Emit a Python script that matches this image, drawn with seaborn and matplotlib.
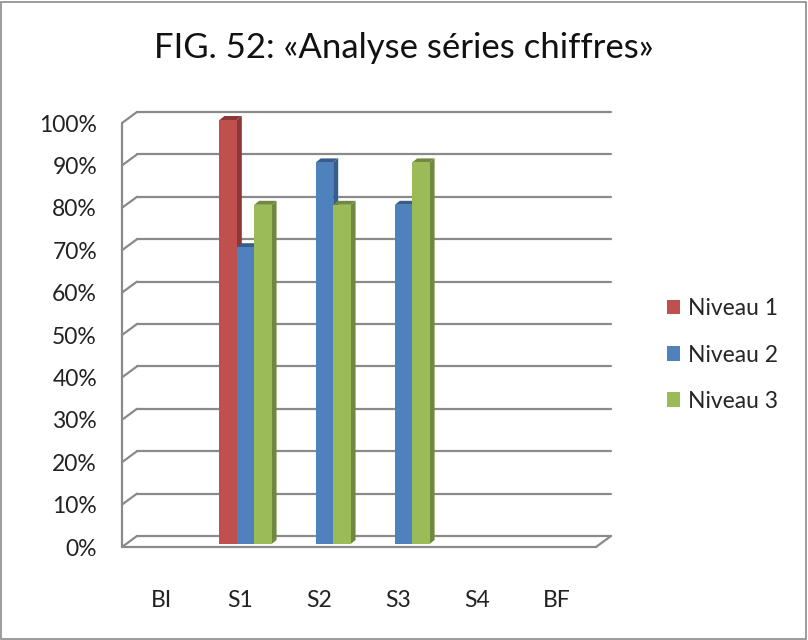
import numpy as np
import pandas as pd
import matplotlib
matplotlib.use("Agg")
import matplotlib.pyplot as plt
from matplotlib.patches import Polygon, Rectangle
from matplotlib.lines import Line2D
from matplotlib.transforms import IdentityTransform, Affine2D
import seaborn as sns

sns.set_style("white")
plt.rcParams['font.family'] = ['Lato', 'DejaVu Sans']

categories = ["BI", "S1", "S2", "S3", "S4", "BF"]
niveau1 = [0, 1.0, 0, 0, 0, 0]
niveau2 = [0, 0.7, 0.9, 0.8, 0, 0]
niveau3 = [0, 0.8, 0.8, 0.9, 0, 0]
series = ["Niveau 1", "Niveau 2", "Niveau 3"]
colors = ["#C0504D", "#4F81BD", "#9BBB59"]
dark = ["#8C3836", "#385D8A", "#71893F"]
yticks = [0, .1, .2, .3, .4, .5, .6, .7, .8, .9, 1.0]

df = pd.DataFrame({
    "cat": categories * 3,
    "serie": [s for s in series for _ in categories],
    "val": niveau1 + niveau2 + niveau3,
})

fig = plt.figure(figsize=(8.08, 6.4), dpi=100)
ax = fig.add_axes([122/808, 1-547/640, 474/808, 424/640])
sns.barplot(data=df, x="cat", y="val", hue="serie", order=categories,
            hue_order=series, palette=colors, width=0.66, saturation=1,
            errorbar=None, ax=ax, zorder=3, linewidth=0, edgecolor="none")
ax.set_xlim(-0.5, 5.5)
ax.set_ylim(0, 1.0)
for s in ax.spines.values():
    s.set_visible(False)
ax.set_xlabel("")
ax.set_ylabel("")
ax.set_yticks(yticks)
ax.set_yticklabels([f"{int(round(t*100))}%" for t in yticks], fontsize=16.5)
ax.tick_params(axis="y", length=0, pad=18)
ax.tick_params(axis="x", length=0, pad=31, labelsize=16.5)
for t in ax.get_xticklabels() + ax.get_yticklabels():
    t.set_color("#222222")

# 3D-like walls
dx, dy = 15, 11
grid_c = "#8a8a8a"
def px(x, y):
    return ax.transData.transform((x, y))

def line(p, q, z=0.5, lw=1.6):
    ax.add_line(Line2D([p[0], q[0]], [p[1], q[1]], transform=IdentityTransform(),
                       color=grid_c, lw=lw, zorder=z, clip_on=False))

x0, x1 = -0.5, 5.5
for t in yticks:
    a = px(x0, t)
    b = px(x1, t)
    line(a + [dx, dy], b + [dx, dy])
    if t > 0:
        line(a, a + [dx, dy])
# left front edge
line(px(x0, 0), px(x0, 1.0), z=4)
# floor
f0, f1 = px(x0, 0), px(x1, 0)
line(f0, f1, z=4)
line(f0, f0 + [dx, dy], z=4)
line(f1, f1 + [dx, dy], z=4)

# bars sit a little inside the box; add depth faces (patches grouped by hue)
sx, sy = 5, 3
shift = np.array([sx, sy])
bdx, bdy = 5, 4
bars = ax.patches[:len(series) * len(categories)]
for i, bar in enumerate(bars):
    bar.set_transform(ax.transData + Affine2D().translate(sx, sy))
    bar.set_clip_on(False)
    h = bar.get_height()
    if not h or h <= 0:
        continue
    k = i // len(categories)
    xl = bar.get_x()
    xr = xl + bar.get_width()
    p_tl, p_tr = px(xl, h) + shift, px(xr, h) + shift
    p_br = px(xr, 0) + shift
    side = [p_br, p_tr, p_tr + [bdx, bdy], p_br + [bdx, bdy]]
    top = [p_tl, p_tr, p_tr + [bdx, bdy], p_tl + [bdx, bdy]]
    ax.add_patch(Polygon(side, closed=True, transform=IdentityTransform(),
                         facecolor=dark[k], edgecolor="none", zorder=2.9, clip_on=False))
    ax.add_patch(Polygon(top, closed=True, transform=IdentityTransform(),
                         facecolor=dark[k], edgecolor="none", zorder=2.9, clip_on=False))

ax.legend(loc="center left", bbox_to_anchor=(646/808, 1-355/640),
          bbox_transform=fig.transFigure, frameon=False, fontsize=16.5,
          handlelength=0.6, handleheight=0.6, handletextpad=0.35,
          labelspacing=1.1)

fig.text(0.5, 1-48/640, "FIG. 52: «Analyse séries chiffres»", ha="center",
         va="center", fontsize=25, color="#111111")
fig.add_artist(Rectangle((0.0015, 0.002), 0.996, 0.995, transform=fig.transFigure,
                         fill=False, edgecolor="#8a8a8a", lw=1.2))

fig.savefig("out.png", dpi=100)
